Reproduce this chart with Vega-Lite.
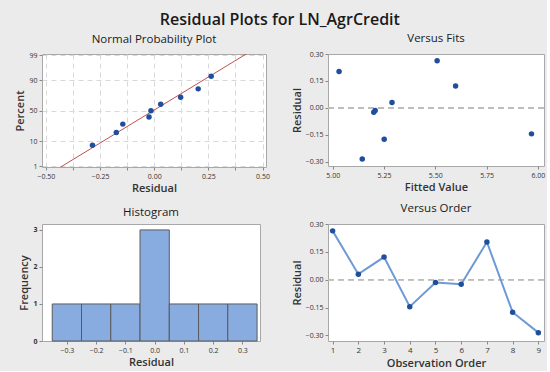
{
  "$schema": "https://vega.github.io/schema/vega-lite/v6.json",
  "background": "#ebebeb",
  "padding": {"left": 14, "top": 12, "right": 1, "bottom": 2},
  "title": {"text": "Residual Plots for LN_AgrCredit", "fontSize": 16, "fontWeight": 600, "color": "#1a1a1a", "font": "Open Sans", "anchor": "middle", "offset": 4},
  "datasets": {
    "res": [
      {"obs": 1, "fit": 5.509, "resid": 0.263, "z": 1.443},
      {"obs": 2, "fit": 5.289, "resid": 0.03, "z": 0.269},
      {"obs": 3, "fit": 5.599, "resid": 0.122, "z": 0.562},
      {"obs": 4, "fit": 5.969, "resid": -0.145, "z": -0.562},
      {"obs": 5, "fit": 5.207, "resid": -0.015, "z": 0},
      {"obs": 6, "fit": 5.2, "resid": -0.024, "z": -0.269},
      {"obs": 7, "fit": 5.031, "resid": 0.203, "z": 0.912},
      {"obs": 8, "fit": 5.251, "resid": -0.175, "z": -0.912},
      {"obs": 9, "fit": 5.144, "resid": -0.285, "z": -1.443}
    ],
    "fitline": [
      {"resid": -0.476, "z": -2.6},
      {"resid": 0.466, "z": 2.6}
    ],
    "hist": [
      {"lo": -0.35, "hi": -0.25, "count": 1},
      {"lo": -0.25, "hi": -0.15, "count": 1},
      {"lo": -0.15, "hi": -0.05, "count": 1},
      {"lo": -0.05, "hi": 0.05, "count": 3},
      {"lo": 0.05, "hi": 0.15, "count": 1},
      {"lo": 0.15, "hi": 0.25, "count": 1},
      {"lo": 0.25, "hi": 0.35, "count": 1}
    ]
  },
  "config": {
    "font": "Open Sans",
    "view": {"fill": "white", "stroke": "#a8a8a8", "strokeWidth": 1},
    "axis": {"labelFontSize": 7, "labelColor": "#333", "titleFontSize": 11, "titleFontWeight": 600, "titleColor": "#333", "domain": false, "tickColor": "#888", "tickSize": 3, "grid": false, "labelPadding": 2, "titlePadding": 3, "labelOverlap": false},
    "title": {"fontSize": 11.5, "fontWeight": 500, "color": "#1a1a1a", "offset": 6}
  },
  "columns": 2,
  "bounds": "flush",
  "spacing": {"row": 57, "column": 62},
  "concat": [
    {
      "title": "Normal Probability Plot",
      "width": 224,
      "height": 113,
      "encoding": {
        "x": {"field": "resid", "type": "quantitative", "scale": {"domain": [-0.518, 0.516], "nice": false, "zero": false},
          "axis": {"title": "Residual", "values": [-0.5, -0.375, -0.25, -0.125, 0, 0.125, 0.25, 0.375, 0.5], "labelExpr": "abs(datum.value*4 - round(datum.value*4)) < 0.01 ? format(datum.value, '.2f') : ''", "grid": true, "gridDash": [5, 4], "gridColor": "#d8d8d8", "labelOverlap": false}},
        "y": {"field": "z", "type": "quantitative", "scale": {"domain": [-2.355, 2.37], "nice": false, "zero": false},
          "axis": {"title": "Percent", "values": [-2.326, -1.2816, 0, 1.2816, 2.326], "labelExpr": "datum.value < -2 ? '1' : datum.value < -1 ? '10' : datum.value < 1 ? '50' : datum.value < 2 ? '90' : '99'", "grid": true, "gridDash": [5, 4], "gridColor": "#d8d8d8", "labelOverlap": false}}
      },
      "layer": [
        {
          "data": {"name": "fitline"},
          "mark": {"type": "line", "color": "#c0504d", "strokeWidth": 1, "clip": true}
        },
        {
          "data": {"name": "res"},
          "mark": {"type": "circle", "color": "#1f4e9c", "opacity": 1, "size": 30}
        }
      ]
    },
    {
      "title": "Versus Fits",
      "width": 216,
      "height": 112,
      "data": {"name": "res"},
      "layer": [
        {
          "mark": {"type": "rule", "color": "#bdbdbd", "strokeDash": [6, 4], "strokeWidth": 1},
          "encoding": {"y": {"datum": 0, "type": "quantitative", "scale": {"domain": [-0.324, 0.3], "nice": false, "zero": false},
              "axis": {"title": "Residual", "values": [-0.3, -0.15, 0, 0.15, 0.3], "format": ".2f", "labelOverlap": false}}}
        },
        {
          "mark": {"type": "circle", "color": "#1f4e9c", "opacity": 1, "size": 30},
          "encoding": {
            "x": {"field": "fit", "type": "quantitative", "scale": {"domain": [4.977, 6.03], "nice": false, "zero": false},
              "axis": {"title": "Fitted Value", "values": [5, 5.25, 5.5, 5.75, 6], "format": ".2f", "labelOverlap": false}},
            "y": {"field": "resid", "type": "quantitative", "scale": {"domain": [-0.324, 0.3], "nice": false, "zero": false},
              "axis": {"title": "Residual", "values": [-0.3, -0.15, 0, 0.15, 0.3], "format": ".2f", "labelOverlap": false}}
          }
        }
      ]
    },
    {
      "title": "Histogram",
      "width": 218,
      "height": 117,
      "data": {"name": "hist"},
      "mark": {"type": "bar", "fill": "#89ace0", "stroke": "#5a5a5a", "strokeWidth": 1, "opacity": 1},
      "encoding": {
        "x": {"field": "lo", "type": "quantitative",
          "scale": {"domain": [-0.385, 0.36], "nice": false, "zero": false},
          "axis": {"title": "Residual", "values": [-0.3, -0.2, -0.1, 0, 0.1, 0.2, 0.3], "format": ".1f", "labelOverlap": false}},
        "x2": {"field": "hi"},
        "y": {"field": "count", "type": "quantitative", "scale": {"domain": [0, 3.16], "nice": false},
          "axis": {"title": "Frequency", "values": [0, 1, 2, 3], "format": "d", "labelFontWeight": "bold", "labelOverlap": false}},
        "y2": {"datum": 0}
      }
    },
    {
      "title": "Versus Order",
      "width": 216,
      "height": 117,
      "data": {"name": "res"},
      "encoding": {
        "x": {"field": "obs", "type": "quantitative", "scale": {"domain": [0.82, 9.22], "nice": false, "zero": false},
          "axis": {"title": "Observation Order", "values": [1, 2, 3, 4, 5, 6, 7, 8, 9], "format": "d", "labelFontSize": 8, "labelOverlap": false}},
        "y": {"field": "resid", "type": "quantitative", "scale": {"domain": [-0.33, 0.3], "nice": false, "zero": false},
          "axis": {"title": "Residual", "values": [-0.3, -0.15, 0, 0.15, 0.3], "format": ".2f", "labelOverlap": false}}
      },
      "layer": [
        {
          "mark": {"type": "rule", "color": "#bdbdbd", "strokeDash": [6, 4], "strokeWidth": 1},
          "encoding": {"x": {"value": 0}, "x2": {"value": 216}, "y": {"datum": 0, "type": "quantitative"}}
        },
        {
          "mark": {"type": "line", "color": "#6d9ad6", "strokeWidth": 2}
        },
        {
          "mark": {"type": "circle", "color": "#1f4e9c", "opacity": 1, "size": 30}
        }
      ]
    }
  ]
}
